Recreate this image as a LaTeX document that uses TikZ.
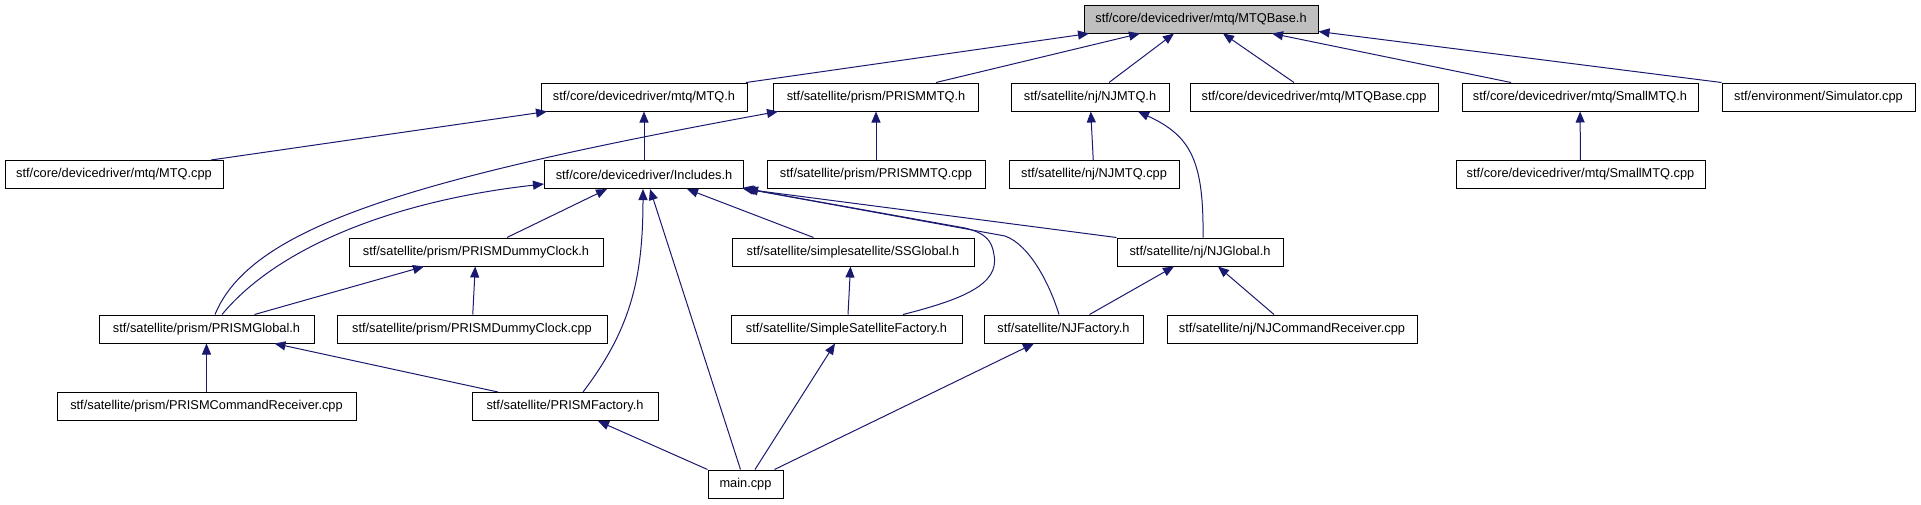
\documentclass[tikz,border=0pt]{standalone}
\usepackage{fontspec}
\setmainfont{Liberation Sans}
\usepackage{xcolor}
\usetikzlibrary{arrows.meta}
\definecolor{edgeblue}{RGB}{25,25,112}
\definecolor{headgray}{RGB}{191,191,191}

\begin{document}
\begin{tikzpicture}[x=1pt,y=-1pt,
		file/.style={draw, line width=1pt, fill=white, minimum height=28pt, inner sep=0pt, font=\fontsize{12.8}{15}\selectfont},
		incl/.style={draw=edgeblue, line width=1pt, -{Triangle[length=11pt,width=9pt]}}]
				\useasboundingbox (0,0) rectangle (1921,504);
				\node[file, fill=headgray, minimum width=234pt] (mtqbase) at (1201,19) {stf/core/devicedriver/mtq/MTQBase.h};
				
				\node[file, minimum width=206pt] (mtqh) at (644,97) {stf/core/devicedriver/mtq/MTQ.h};
				\node[file, minimum width=205pt] (prismmtqh) at (876,97) {stf/satellite/prism/PRISMMTQ.h};
				\node[file, minimum width=158pt] (njmtqh) at (1090,97) {stf/satellite/nj/NJMTQ.h};
				\node[file, minimum width=248pt] (mtqbasecpp) at (1314,97) {stf/core/devicedriver/mtq/MTQBase.cpp};
				\node[file, minimum width=236pt] (smallmtqh) at (1580,97) {stf/core/devicedriver/mtq/SmallMTQ.h};
				\node[file, minimum width=193pt] (simulator) at (1818.5,97) {stf/environment/Simulator.cpp};
				
				\node[file, minimum width=218pt] (mtqcpp) at (114,174.5) {stf/core/devicedriver/mtq/MTQ.cpp};
				\node[file, minimum width=199pt] (includes) at (644,174.5) {stf/core/devicedriver/Includes.h};
				\node[file, minimum width=218pt] (prismmtqcpp) at (876,174.5) {stf/satellite/prism/PRISMMTQ.cpp};
				\node[file, minimum width=170pt] (njmtqcpp) at (1094,174.5) {stf/satellite/nj/NJMTQ.cpp};
				\node[file, minimum width=249pt] (smallmtqcpp) at (1580.5,174.5) {stf/core/devicedriver/mtq/SmallMTQ.cpp};
				
				\node[file, minimum width=254pt] (dummyclockh) at (476,252) {stf/satellite/prism/PRISMDummyClock.h};
				\node[file, minimum width=242pt] (ssglobal) at (853,252) {stf/satellite/simplesatellite/SSGlobal.h};
				\node[file, minimum width=166pt] (njglobal) at (1200,252) {stf/satellite/nj/NJGlobal.h};
				
				\node[file, minimum width=215pt] (prismglobal) at (206.5,329) {stf/satellite/prism/PRISMGlobal.h};
				\node[file, minimum width=270pt] (dummyclockcpp) at (472,329) {stf/satellite/prism/PRISMDummyClock.cpp};
				\node[file, minimum width=231pt] (ssfactory) at (846.5,329) {stf/satellite/SimpleSatelliteFactory.h};
				\node[file, minimum width=159pt] (njfactory) at (1063.5,329) {stf/satellite/NJFactory.h};
				\node[file, minimum width=250pt] (njcmdrecv) at (1292,329) {stf/satellite/nj/NJCommandReceiver.cpp};
				
				\node[file, minimum width=299pt] (prismcmdrecv) at (206.5,406.5) {stf/satellite/prism/PRISMCommandReceiver.cpp};
				\node[file, minimum width=186pt] (prismfactory) at (565,406.5) {stf/satellite/PRISMFactory.h};
				
				\node[file, minimum width=75pt] (maincpp) at (745.5,484) {main.cpp};
				
				\draw[incl] ([xshift=102]mtqh.north) -- ([xshift=-112]mtqbase.south);
				\draw[incl] ([xshift=60]prismmtqh.north) -- ([xshift=-61]mtqbase.south);
				\draw[incl] ([xshift=19]njmtqh.north) -- ([xshift=-27]mtqbase.south);
				\draw[incl] ([xshift=-20]mtqbasecpp.north) -- ([xshift=22]mtqbase.south);
				\draw[incl] ([xshift=-69]smallmtqh.north) -- ([xshift=71]mtqbase.south);
				\draw[incl] (simulator.north west) -- ([yshift=2]mtqbase.south east);
				
				\draw[incl] ([xshift=97]mtqcpp.north) -- ([xshift=-97]mtqh.south);
				\draw[incl] (includes) -- (mtqh);
				\draw[incl] (prismmtqcpp) -- (prismmtqh);
				\draw[incl] ([xshift=8.5]prismglobal.north) .. controls +(35,-85) and +(-378,69) .. ([xshift=-98]prismmtqh.south);
				\draw[incl] (njmtqcpp) -- (njmtqh);
				\draw[incl] ([xshift=3]njglobal.north) .. controls +(1,-78) and +(52,24) .. ([xshift=48]njmtqh.south);
				\draw[incl] (smallmtqcpp) -- (smallmtqh);
				
				\draw[incl] ([xshift=15.5]prismglobal.north) .. controls +(58,-70) and +(-144,16) .. ([yshift=-9.5]includes.west);
				\draw[incl] ([xshift=31]dummyclockh.north) -- ([xshift=-37]includes.south);
				\draw[incl] ([xshift=-39.5]ssglobal.north) -- ([xshift=43]includes.south);
				\draw[incl] (njglobal.north west) -- (includes.south east);
				\draw[incl] ([xshift=56.5]ssfactory.north) .. controls (960,300) and (1000,285) .. (994,255) .. controls (992,240) and (985,233) .. (965,228) -- ([xshift=-2,yshift=1]includes.south east);
				\draw[incl] ([xshift=-4.5]njfactory.north) .. controls (1050,285) and (1030,245) .. (1005,236) -- ([xshift=3]includes.south east);
				\draw[incl] ([xshift=18]prismfactory.north) .. controls (630,330) and (643,280) .. ([xshift=-1]includes.south);
				\draw[incl] ([xshift=-5]maincpp.north) -- ([xshift=6]includes.south);
				
				\draw[incl] ([xshift=48]prismglobal.north) -- ([xshift=-52]dummyclockh.south);
				\draw[incl] (dummyclockcpp) -- (dummyclockh);
				\draw[incl] ([xshift=1.5]ssfactory.north) -- ([xshift=-2.5]ssglobal.south);
				\draw[incl] ([xshift=26]njfactory.north) -- ([xshift=-26]njglobal.south);
				\draw[incl] ([xshift=-18]njcmdrecv.north) -- ([xshift=18]njglobal.south);
				
				\draw[incl] (prismcmdrecv) -- (prismglobal);
				\draw[incl] ([xshift=-67]prismfactory.north) -- ([xshift=68]prismglobal.south);
				
				\draw[incl] ([xshift=9.5]maincpp.north) -- ([xshift=-11.5]ssfactory.south);
				\draw[incl] ([xshift=29]maincpp.north) -- ([xshift=-29.5]njfactory.south);
				\draw[incl] (maincpp.north west) -- ([xshift=33]prismfactory.south);
			\end{tikzpicture}
\end{document}
